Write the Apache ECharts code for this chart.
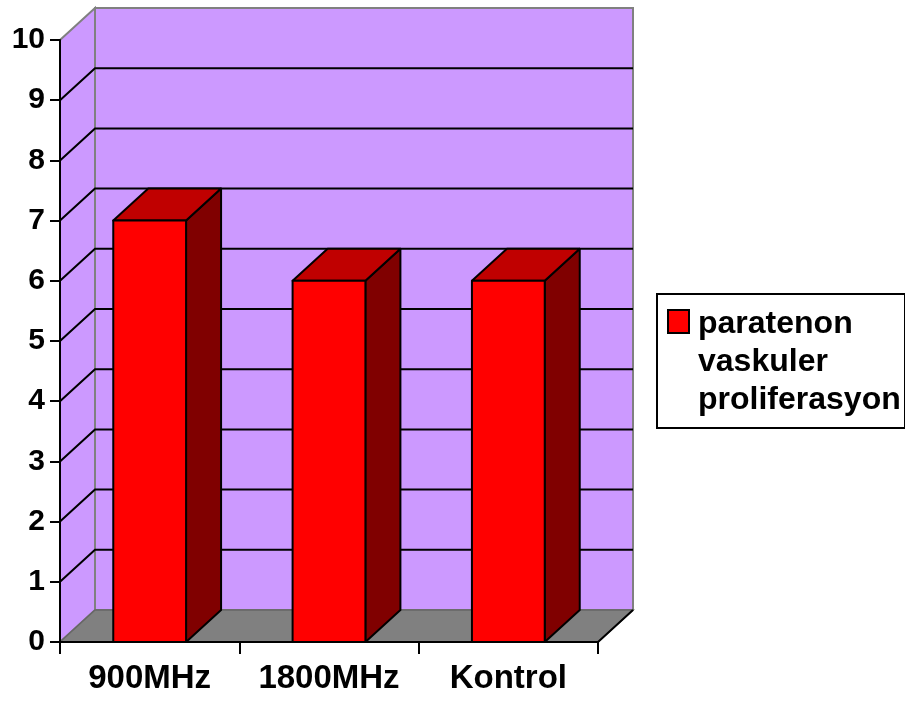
<!DOCTYPE html>
<html>
<head>
<meta charset="utf-8">
<script src="https://cdn.jsdelivr.net/npm/echarts@6/dist/echarts.min.js"></script>
<style>
  html, body { margin: 0; padding: 0; background: #ffffff; }
  #chart { width: 905px; height: 702px; }
</style>
</head>
<body>
<div id="chart"></div>
<script>
// Chart data
const categories = ['900MHz', '1800MHz', 'Kontrol'];
const values = [7, 6, 6];
const seriesName = 'paratenon\nvaskuler\nproliferasyon';
const yMin = 0;
const yMax = 10;
const yStep = 1;

// Depth of the pseudo-3D projection (pixels)
const DX = 35;
const DY = -32;
const FONT = '"Liberation Sans", Arial, sans-serif';

const chart = echarts.init(document.getElementById('chart'), null, { renderer: 'canvas' });

// Walls, floor and gridlines of the 3D box
function renderBox(params, api) {
  const cs = params.coordSys;
  const x0 = cs.x, x1 = cs.x + cs.width;
  const yBase = api.coord([0, yMin])[1];
  const yTop = api.coord([0, yMax])[1];
  const children = [];
  // back wall
  children.push({
    type: 'polygon',
    shape: { points: [[x0 + DX, yTop + DY], [x1 + DX, yTop + DY], [x1 + DX, yBase + DY], [x0 + DX, yBase + DY]] },
    style: { fill: '#CC99FF', stroke: '#808080', lineWidth: 2 }
  });
  // left wall
  children.push({
    type: 'polygon',
    shape: { points: [[x0, yTop], [x0 + DX, yTop + DY], [x0 + DX, yBase + DY], [x0, yBase]] },
    style: { fill: '#CC99FF', stroke: '#808080', lineWidth: 2 }
  });
  // gridlines on back and left walls
  for (let v = yMin + yStep; v < yMax; v += yStep) {
    const y = api.coord([0, v])[1];
    children.push({
      type: 'polyline',
      shape: { points: [[x0, y], [x0 + DX, y + DY], [x1 + DX, y + DY]] },
      style: { stroke: '#000000', lineWidth: 2, fill: null }
    });
  }
  // floor
  children.push({
    type: 'polygon',
    shape: { points: [[x0, yBase], [x1, yBase], [x1 + DX, yBase + DY], [x0 + DX, yBase + DY]] },
    style: { fill: '#808080', stroke: '#666666', lineWidth: 1.5 }
  });
  children.push({
    type: 'polyline',
    shape: { points: [[x0, yBase], [x1, yBase], [x1 + DX, yBase + DY]] },
    style: { stroke: '#000000', lineWidth: 2, fill: null }
  });
  return { type: 'group', children: children };
}

// 3D bar: front face, top face and right side face
function renderBar(params, api) {
  const idx = api.value(0);
  const val = api.value(1);
  const top = api.coord([idx, val]);
  const base = api.coord([idx, yMin]);
  const bw = api.size([1, 0])[0] * 0.406;
  const xl = top[0] - bw / 2, xr = top[0] + bw / 2;
  const yt = top[1], yb = base[1];
  const edge = { stroke: '#000000', lineWidth: 2, lineJoin: 'round' };
  return {
    type: 'group',
    children: [
      {
        type: 'polygon',
        shape: { points: [[xr, yt], [xr + DX, yt + DY], [xr + DX, yb + DY], [xr, yb]] },
        style: Object.assign({ fill: '#800000' }, edge)
      },
      {
        type: 'polygon',
        shape: { points: [[xl, yt], [xr, yt], [xr + DX, yt + DY], [xl + DX, yt + DY]] },
        style: Object.assign({ fill: '#C00000' }, edge)
      },
      {
        type: 'rect',
        shape: { x: xl, y: yt, width: bw, height: yb - yt },
        style: Object.assign({ fill: '#FF0000' }, edge)
      }
    ]
  };
}

const option = {
  backgroundColor: '#ffffff',
  animation: false,
  grid: { left: 60, right: 307, top: 40, bottom: 60, containLabel: false },
  xAxis: {
    type: 'category',
    data: categories,
    z: 10,
    axisLine: { show: true, lineStyle: { color: '#000000', width: 2 } },
    axisTick: { show: true, interval: 0, length: 12, lineStyle: { color: '#000000', width: 2 } },
    axisLabel: { interval: 0, color: '#000000', fontFamily: FONT, fontWeight: 'bold', fontSize: 33, margin: 20 },
    splitLine: { show: false }
  },
  yAxis: {
    type: 'value',
    min: yMin,
    max: yMax,
    interval: yStep,
    z: 10,
    axisLine: { show: true, lineStyle: { color: '#000000', width: 2 } },
    axisTick: { show: true, length: 10, lineStyle: { color: '#000000', width: 2 } },
    axisLabel: { color: '#000000', fontFamily: FONT, fontWeight: 'bold', fontSize: 30, margin: 15 },
    splitLine: { show: false }
  },
  series: [
    {
      type: 'custom',
      name: 'box',
      z: 1,
      silent: true,
      renderItem: renderBox,
      data: [[0, 0]]
    },
    {
      type: 'custom',
      name: seriesName,
      z: 5,
      renderItem: renderBar,
      encode: { x: 0, y: 1 },
      data: values.map((v, i) => [i, v])
    }
  ],
  graphic: [
    {
      type: 'group',
      left: 656,
      top: 293,
      children: [
        {
          type: 'rect',
          shape: { x: 0, y: 0, width: 248, height: 134 },
          style: { fill: '#ffffff', stroke: '#000000', lineWidth: 2 }
        },
        {
          type: 'rect',
          shape: { x: 11, y: 16, width: 21, height: 23 },
          style: { fill: '#FF0000', stroke: '#000000', lineWidth: 2 }
        },
        {
          type: 'text',
          x: 41,
          y: 11,
          style: {
            text: seriesName,
            fill: '#000000',
            font: 'bold 32px ' + FONT,
            lineHeight: 38,
            verticalAlign: 'top'
          }
        }
      ]
    }
  ]
};

chart.setOption(option);
</script>
</body>
</html>
